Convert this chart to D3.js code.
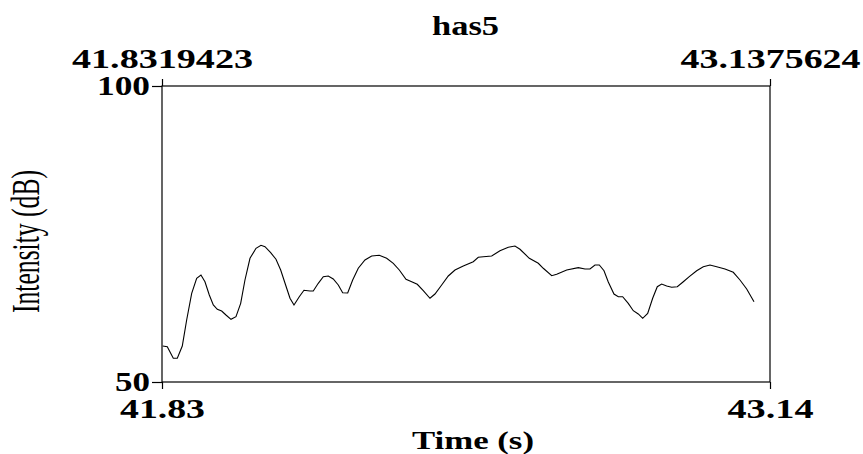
<!DOCTYPE html>
<html>
<head>
<meta charset="utf-8">
<script src="https://cdn.jsdelivr.net/npm/d3@7"></script>
<style>
  html, body { margin: 0; padding: 0; background: #fff; }
  svg { display: block; }
  text { font-family: "Liberation Serif", "Times New Roman", serif; fill: #000; }
</style>
</head>
<body>
<svg id="chart" width="863" height="454"></svg>
<script>
// intensity contour (seconds, dB)
const times = [
  41.8334, 41.8433, 41.8562, 41.8648, 41.8755, 41.8849, 41.8957, 41.9064, 41.9156, 41.9242,
  41.9335, 41.9421, 41.9507, 41.9601, 41.9693, 41.9801, 41.9908, 42.0009, 42.0101, 42.0209,
  42.0338, 42.0445, 42.0531, 42.0653, 42.0767, 42.0868, 42.0997, 42.1068, 42.1154, 42.1267,
  42.1368, 42.1497, 42.1568, 42.1675, 42.1783, 42.1890, 42.1997, 42.2105, 42.2199, 42.2307,
  42.2414, 42.2534, 42.2678, 42.2822, 42.2985, 42.3144, 42.3286, 42.3415, 42.3559, 42.3681,
  42.3801, 42.3930, 42.4074, 42.4181, 42.4325, 42.4467, 42.4611, 42.4789, 42.5004, 42.5111,
  42.5219, 42.5399, 42.5577, 42.5756, 42.5899, 42.6007, 42.6207, 42.6400, 42.6507, 42.6688,
  42.6795, 42.7010, 42.7259, 42.7403, 42.7510, 42.7617, 42.7710, 42.7811, 42.7903, 42.8025,
  42.8118, 42.8212, 42.8332, 42.8440, 42.8547, 42.8642, 42.8749, 42.8856, 42.8955, 42.9049,
  42.9157, 42.9264, 42.9385, 42.9514, 42.9642, 42.9801, 42.9943, 43.0087, 43.0231, 43.0409,
  43.0587, 43.0731, 43.0875, 43.1032
];
const intensity = [
  56.08, 55.96, 54.00, 54.00, 56.08, 60.47, 64.98, 67.52, 68.07, 66.94,
  64.70, 63.01, 62.28, 61.99, 61.32, 60.59, 61.03, 63.29, 67.23, 70.90,
  72.58, 73.09, 72.86, 71.84, 70.73, 68.92, 65.83, 64.14, 63.01, 64.41,
  65.49, 65.37, 65.37, 66.67, 67.79, 67.91, 67.40, 66.39, 65.08, 65.03,
  67.23, 69.21, 70.61, 71.28, 71.40, 70.90, 70.05, 68.92, 67.35, 66.94,
  66.50, 65.42, 64.14, 64.86, 66.39, 67.91, 68.92, 69.59, 70.32, 71.06,
  71.17, 71.28, 72.18, 72.75, 72.97, 72.42, 70.90, 70.05, 69.21, 67.96,
  68.19, 68.92, 69.31, 69.09, 69.09, 69.76, 69.76, 68.80, 66.89, 64.86,
  64.41, 64.41, 63.29, 62.04, 61.49, 60.76, 61.60, 64.14, 66.10, 66.55,
  66.22, 66.00, 66.10, 66.94, 67.79, 68.80, 69.48, 69.76, 69.48, 69.09,
  68.53, 67.23, 65.71, 63.56
];

const timeRange = [41.8319423, 43.1375624];
const dbRange = [50, 100];
const bottomTicks = ["41.83", "43.14"];
const topTicks = ["41.8319423", "43.1375624"];
const leftTicks = ["50", "100"];

const svg = d3.select("#chart");
const plotL = 162, plotR = 770, plotT = 86, plotB = 382;

const x = d3.scaleLinear().domain(timeRange).range([plotL, plotR]);
const y = d3.scaleLinear().domain(dbRange).range([plotB, plotT]);

svg.append("rect").attr("width", 863).attr("height", 454).attr("fill", "#fff");

// frame
svg.append("rect")
  .attr("x", plotL).attr("y", plotT)
  .attr("width", plotR - plotL).attr("height", plotB - plotT)
  .attr("fill", "none").attr("stroke", "#000").attr("stroke-width", 1.2);

// the contour
const line = d3.line()
  .x((d, i) => x(times[i]))
  .y(d => y(d));

svg.append("path")
  .datum(intensity)
  .attr("fill", "none")
  .attr("stroke", "#000")
  .attr("stroke-width", 1.1)
  .attr("d", line);

// axes: only the end ticks, labels widened like the original
function styleAxis(g, widths, size, yPos) {
  g.select(".domain").remove();
  g.selectAll(".tick line").attr("stroke", "#000").attr("stroke-width", 1.2);
  g.selectAll(".tick text")
    .attr("font-family", "Liberation Serif")
    .attr("font-weight", "bold")
    .attr("font-size", size)
    .attr("fill", "#000")
    .attr("textLength", (d, i) => widths[i])
    .attr("lengthAdjust", "spacingAndGlyphs")
    .each(function () {
      if (yPos !== null) d3.select(this).attr("y", yPos).attr("dy", 0);
    });
}

svg.append("g")
  .attr("transform", `translate(0,${plotB})`)
  .call(d3.axisBottom(x).tickValues(timeRange).tickSize(7).tickSizeOuter(0)
    .tickFormat((d, i) => bottomTicks[i]))
  .call(g => styleAxis(g, [85, 86], 28, 36));

svg.append("g")
  .attr("transform", `translate(0,${plotT})`)
  .call(d3.axisTop(x).tickValues(timeRange).tickSize(7).tickSizeOuter(0)
    .tickFormat((d, i) => topTicks[i]))
  .call(g => styleAxis(g, [181, 180], 28, -18));

svg.append("g")
  .attr("transform", `translate(${plotL},0)`)
  .call(d3.axisLeft(y).tickValues(dbRange).tickSize(10).tickPadding(2).tickSizeOuter(0)
    .tickFormat((d, i) => leftTicks[i]))
  .call(g => styleAxis(g, [35, 53], 28, null));

// titles
svg.append("text")
  .attr("x", 465.5).attr("y", 35)
  .attr("text-anchor", "middle")
  .attr("font-weight", "bold").attr("font-size", 28)
  .attr("textLength", 67).attr("lengthAdjust", "spacingAndGlyphs")
  .text("has5");

svg.append("text")
  .attr("x", 473).attr("y", 449)
  .attr("text-anchor", "middle")
  .attr("font-weight", "bold").attr("font-size", 25)
  .attr("textLength", 122).attr("lengthAdjust", "spacingAndGlyphs")
  .text("Time (s)");

svg.append("text")
  .attr("transform", "translate(39,241.5) rotate(-90)")
  .attr("text-anchor", "middle")
  .attr("font-size", 40)
  .attr("textLength", 143).attr("lengthAdjust", "spacingAndGlyphs")
  .text("Intensity (dB)");
</script>
</body>
</html>
